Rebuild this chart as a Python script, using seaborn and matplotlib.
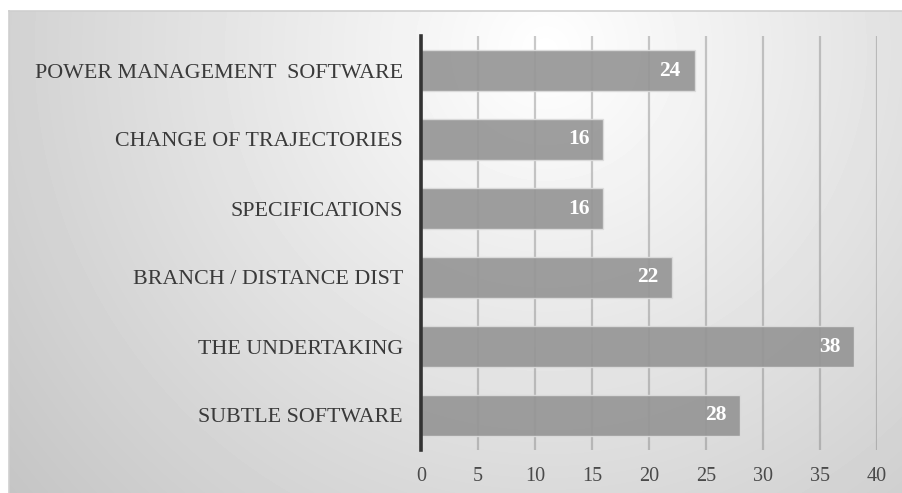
import numpy as np
import pandas as pd
import matplotlib
matplotlib.use("Agg")
import matplotlib.pyplot as plt
import seaborn as sns

categories = [
    "POWER MANAGEMENT  SOFTWARE",
    "CHANGE OF TRAJECTORIES",
    "SPECIFICATIONS",
    "BRANCH / DISTANCE DIST",
    "THE UNDERTAKING",
    "SUBTLE SOFTWARE",
]
values = [24, 16, 16, 22, 38, 28]
x_ticks = [0, 5, 10, 15, 20, 25, 30, 35, 40]

df = pd.DataFrame({"category": categories, "value": values})

sns.set_theme(style="white")
plt.rcParams["font.family"] = ["Liberation Serif", "DejaVu Serif"]

W, H, DPI = 903, 493, 100
fig = plt.figure(figsize=(W / DPI, H / DPI), dpi=DPI)
fig.patch.set_facecolor("white")

# Radial grey gradient panel behind the chart
bg_left, bg_top = 9, 11
bg = fig.add_axes([bg_left / W, 0, 1 - bg_left / W, (H - bg_top) / H])
bw, bh = W - bg_left, H - bg_top
yy, xx = np.mgrid[0:bh, 0:bw]
cx, cy = 0.6 * bw, 0.08 * bh
dist = np.sqrt((xx - cx) ** 2 + (yy - cy) ** 2)
shade = 1.0 - 0.23 * np.clip(dist / 700.0, 0, 1)
bg.imshow(shade, cmap="gray", vmin=0, vmax=1, aspect="auto",
          interpolation="bilinear")
bg.set_xticks([])
bg.set_yticks([])
for side in ("right", "bottom"):
    bg.spines[side].set_visible(False)
for side in ("top", "left"):
    bg.spines[side].set_color("#cfcfcf")
    bg.spines[side].set_linewidth(1.2)

# Bar chart axes
ax = fig.add_axes([421 / W, (H - 450) / H, (877 - 421) / W, (450 - 36) / H])
ax.patch.set_alpha(0)

sns.barplot(data=df, x="value", y="category", orient="h", ax=ax,
            color="#969696", saturation=1, width=0.58,
            edgecolor="#dcdcdc", linewidth=1.0, alpha=0.92, zorder=3)

ax.set_xlim(0, 40)
ax.set_xticks(x_ticks)
ax.set_xticklabels([str(t) for t in x_ticks])
ax.grid(axis="x", color="#7a7a7a", alpha=0.4, linewidth=1.6, zorder=1)
ax.grid(axis="y", visible=False)
ax.set_axisbelow(True)
ax.set_xlabel("")
ax.set_ylabel("")

for side in ("top", "right", "bottom"):
    ax.spines[side].set_visible(False)
ax.spines["left"].set_color("#333333")
ax.spines["left"].set_linewidth(2.6)
ax.spines["left"].set_zorder(5)

ax.tick_params(axis="both", length=0)
ax.tick_params(axis="y", labelsize=15.8, labelcolor="#3a3a3a", pad=13)
ax.tick_params(axis="x", labelsize=14.5, labelcolor="#4a4a4a", pad=12)

# Value labels inside the bar ends
for i, v in enumerate(values):
    ax.annotate(str(v), xy=(v, i), xytext=(-10, 0), textcoords="offset points",
                ha="right", va="center", color="white", fontweight="bold",
                fontsize=15.5, zorder=6)

fig.savefig("out.png", dpi=DPI, facecolor=fig.get_facecolor())
